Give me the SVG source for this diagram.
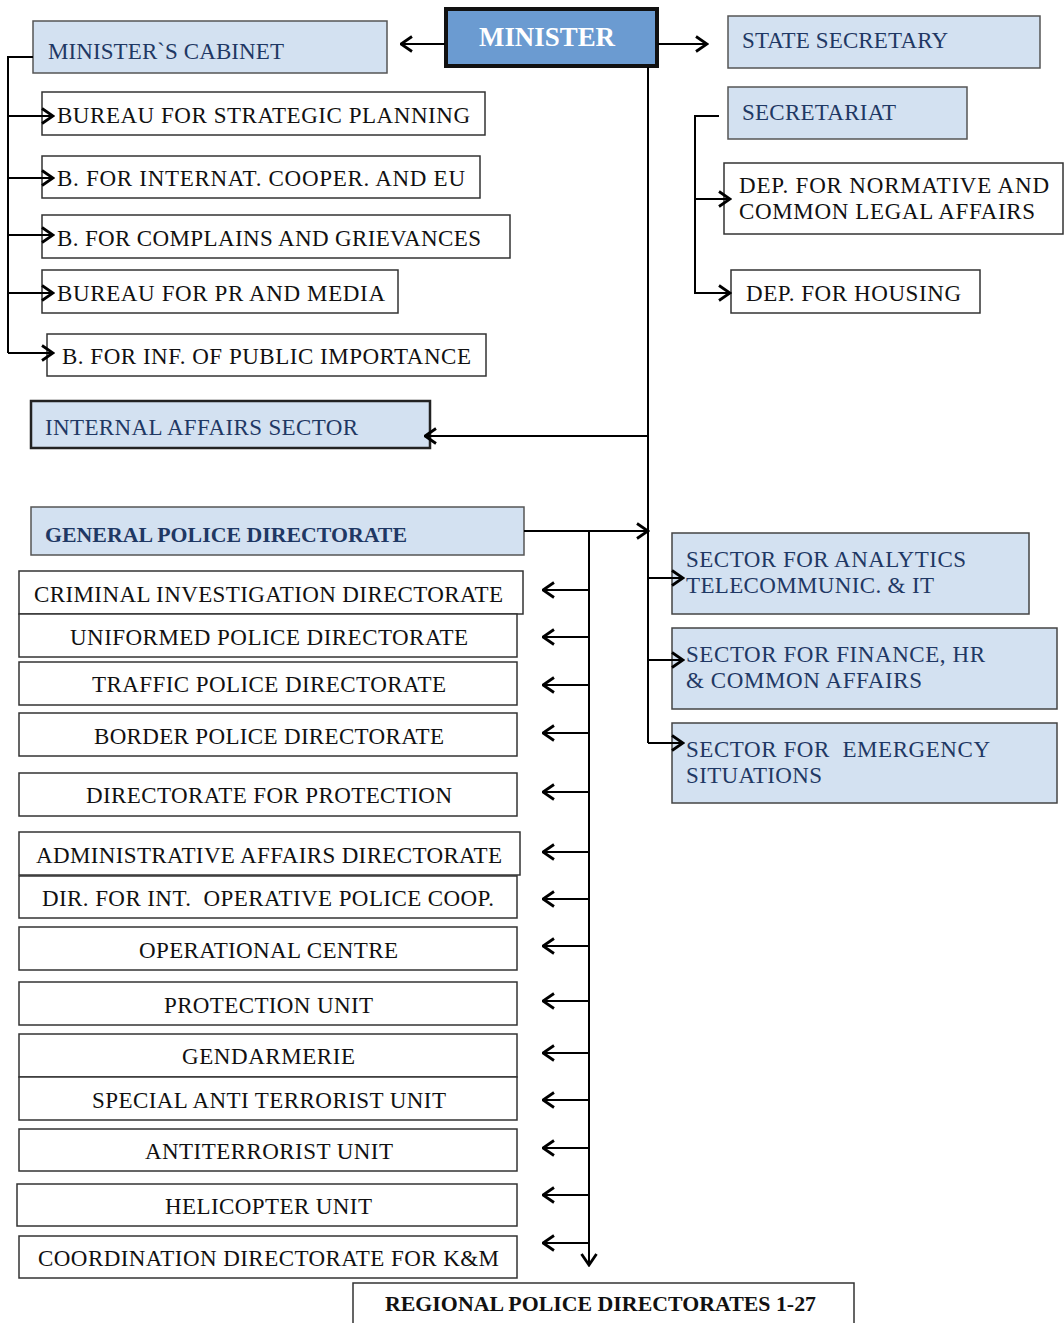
<svg xmlns="http://www.w3.org/2000/svg" width="1064" height="1323" viewBox="0 0 1064 1323">
<defs>
<marker id="ah" viewBox="0 0 14 18" refX="12.5" refY="9" markerWidth="14" markerHeight="18" markerUnits="userSpaceOnUse" orient="auto">
<path d="M1.5,1.5 L12.5,9 L1.5,16.5" fill="none" stroke="#000" stroke-width="2.8"/>
</marker>
<style>
.bl{fill:#d3e1f1;stroke:#555;stroke-width:1.5}
.bd{fill:#d3e1f1;stroke:#222;stroke-width:2.5}
.wh{fill:#fff;stroke:#333;stroke-width:1.5}
text{font-family:"Liberation Serif","Times New Roman",serif;font-size:23px}
.tb{fill:#1f3864}
.tk{fill:#111}
.bold{font-weight:bold}
.c{stroke:#000;stroke-width:2;fill:none}
.ca{stroke:#000;stroke-width:2;fill:none;marker-end:url(#ah)}
</style>
</defs>
<rect width="1064" height="1323" fill="#fff"/>

<g id="minister">
<rect x="446" y="9" width="211" height="57" fill="#6b9bd1" stroke="#111" stroke-width="4"/>
<text x="479" y="46" class="bold" style="font-size:27px" fill="#fff" textLength="136" lengthAdjust="spacingAndGlyphs">MINISTER</text>
</g>
<g id="cabinet">
<rect class="bl" x="33" y="21" width="354" height="52"/>
<text class="tb" x="48" y="59" textLength="236" lengthAdjust="spacing">MINISTER`S CABINET</text>
</g>
<g id="state-secretary">
<rect class="bl" x="728" y="16" width="312" height="52"/>
<text class="tb" x="742" y="48" textLength="206" lengthAdjust="spacing">STATE SECRETARY</text>
</g>
<g id="secretariat">
<rect class="bl" x="728" y="87" width="239" height="52"/>
<text class="tb" x="742" y="120" textLength="154" lengthAdjust="spacing">SECRETARIAT</text>
</g>
<g id="dep-normative">
<rect class="wh" x="724" y="163" width="339" height="71"/>
<text class="tk" x="739" y="193" textLength="310" lengthAdjust="spacing">DEP. FOR NORMATIVE AND</text>
<text class="tk" x="739" y="219" textLength="296" lengthAdjust="spacing">COMMON LEGAL AFFAIRS</text>
</g>
<g id="dep-housing">
<rect class="wh" x="731" y="270" width="249" height="43"/>
<text class="tk" x="746" y="301" textLength="215" lengthAdjust="spacing">DEP. FOR HOUSING</text>
</g>

<g id="bureau-strategic">
<rect class="wh" x="42" y="92" width="443" height="43"/>
<text class="tk" x="57" y="123" textLength="413" lengthAdjust="spacing">BUREAU FOR STRATEGIC PLANNING</text>
</g>
<g id="bureau-internat">
<rect class="wh" x="42" y="156" width="438" height="42"/>
<text class="tk" x="57" y="186" textLength="408" lengthAdjust="spacing">B. FOR INTERNAT. COOPER. AND EU</text>
</g>
<g id="bureau-complains">
<rect class="wh" x="42" y="215" width="468" height="43"/>
<text class="tk" x="57" y="246" textLength="424" lengthAdjust="spacing">B. FOR COMPLAINS AND GRIEVANCES</text>
</g>
<g id="bureau-pr">
<rect class="wh" x="42" y="270" width="356" height="43"/>
<text class="tk" x="57" y="301" textLength="328" lengthAdjust="spacing">BUREAU FOR PR AND MEDIA</text>
</g>
<g id="bureau-inf">
<rect class="wh" x="47" y="334" width="439" height="42"/>
<text class="tk" x="62" y="364" textLength="409" lengthAdjust="spacing">B. FOR INF. OF PUBLIC IMPORTANCE</text>
</g>

<g id="internal-affairs">
<rect class="bd" x="31" y="401" width="399" height="47"/>
<text class="tb" x="45" y="435" textLength="313" lengthAdjust="spacing">INTERNAL AFFAIRS SECTOR</text>
</g>
<g id="gpd">
<rect class="bl" x="31" y="507" width="493" height="48"/>
<text class="tb bold" x="45" y="542" style="font-size:22px" textLength="362" lengthAdjust="spacingAndGlyphs">GENERAL POLICE DIRECTORATE</text>
</g>

<g id="sector-analytics">
<rect class="bl" x="672" y="533" width="357" height="81" style="stroke:#444"/>
<text class="tb" x="686" y="567" textLength="280" lengthAdjust="spacing">SECTOR FOR ANALYTICS</text>
<text class="tb" x="686" y="593" textLength="248" lengthAdjust="spacing">TELECOMMUNIC. &amp; IT</text>
</g>
<g id="sector-finance">
<rect class="bl" x="672" y="628" width="385" height="81" style="stroke:#444"/>
<text class="tb" x="686" y="662" textLength="299" lengthAdjust="spacing">SECTOR FOR FINANCE, HR</text>
<text class="tb" x="686" y="688" textLength="236" lengthAdjust="spacing">&amp; COMMON AFFAIRS</text>
</g>
<g id="sector-emergency">
<rect class="bl" x="672" y="723" width="385" height="80" style="stroke:#444"/>
<text class="tb" x="686" y="757" textLength="304" lengthAdjust="spacing" xml:space="preserve">SECTOR FOR  EMERGENCY</text>
<text class="tb" x="686" y="783" textLength="136" lengthAdjust="spacing">SITUATIONS</text>
</g>

<g id="criminal">
<rect class="wh" x="19" y="571" width="504" height="43"/>
<text class="tk" x="34" y="602" textLength="469" lengthAdjust="spacing">CRIMINAL INVESTIGATION DIRECTORATE</text>
</g>
<g id="uniformed">
<rect class="wh" x="19" y="614" width="498" height="43"/>
<text class="tk" x="70" y="645" textLength="398" lengthAdjust="spacing">UNIFORMED POLICE DIRECTORATE</text>
</g>
<g id="traffic">
<rect class="wh" x="19" y="662" width="498" height="43"/>
<text class="tk" x="92" y="692" textLength="354" lengthAdjust="spacing">TRAFFIC POLICE DIRECTORATE</text>
</g>
<g id="border">
<rect class="wh" x="19" y="713" width="498" height="43"/>
<text class="tk" x="94" y="744" textLength="350" lengthAdjust="spacing">BORDER POLICE DIRECTORATE</text>
</g>
<g id="dir-protection">
<rect class="wh" x="19" y="773" width="498" height="43"/>
<text class="tk" x="86" y="803" textLength="366" lengthAdjust="spacing">DIRECTORATE FOR PROTECTION</text>
</g>
<g id="administrative">
<rect class="wh" x="19" y="832" width="501" height="43"/>
<text class="tk" x="36" y="863" textLength="466" lengthAdjust="spacing">ADMINISTRATIVE AFFAIRS DIRECTORATE</text>
</g>
<g id="int-operative">
<rect class="wh" x="19" y="876" width="498" height="42"/>
<text class="tk" x="42" y="906" textLength="452" lengthAdjust="spacing" xml:space="preserve">DIR. FOR INT.  OPERATIVE POLICE COOP.</text>
</g>
<g id="operational-centre">
<rect class="wh" x="19" y="927" width="498" height="43"/>
<text class="tk" x="139" y="958" textLength="259" lengthAdjust="spacing">OPERATIONAL CENTRE</text>
</g>
<g id="protection-unit">
<rect class="wh" x="19" y="982" width="498" height="43"/>
<text class="tk" x="164" y="1013" textLength="209" lengthAdjust="spacing">PROTECTION UNIT</text>
</g>
<g id="gendarmerie">
<rect class="wh" x="19" y="1034" width="498" height="43"/>
<text class="tk" x="182" y="1064" textLength="173" lengthAdjust="spacing">GENDARMERIE</text>
</g>
<g id="special-anti-terrorist">
<rect class="wh" x="19" y="1077" width="498" height="43"/>
<text class="tk" x="92" y="1108" textLength="354" lengthAdjust="spacing">SPECIAL ANTI TERRORIST UNIT</text>
</g>
<g id="antiterrorist">
<rect class="wh" x="19" y="1129" width="498" height="42"/>
<text class="tk" x="145" y="1159" textLength="248" lengthAdjust="spacing">ANTITERRORIST UNIT</text>
</g>
<g id="helicopter">
<rect class="wh" x="17" y="1184" width="500" height="42"/>
<text class="tk" x="165" y="1214" textLength="207" lengthAdjust="spacing">HELICOPTER UNIT</text>
</g>
<g id="coordination">
<rect class="wh" x="19" y="1236" width="498" height="42"/>
<text class="tk" x="38" y="1266" textLength="461" lengthAdjust="spacing">COORDINATION DIRECTORATE FOR K&amp;M</text>
</g>
<g id="regional">
<rect class="wh" x="353" y="1283" width="501" height="50"/>
<text class="tk bold" x="385" y="1311" style="font-size:22px" textLength="431" lengthAdjust="spacingAndGlyphs">REGIONAL POLICE DIRECTORATES 1-27</text>
</g>

<g id="connectors">
<path class="c" d="M33,57 H8 V353"/>
<path class="ca" d="M8,116 H53"/>
<path class="ca" d="M8,178 H53"/>
<path class="ca" d="M8,235 H53"/>
<path class="ca" d="M8,293 H53"/>
<path class="ca" d="M8,353 H53"/>
<path class="ca" d="M445,44 H401"/>
<path class="ca" d="M658,44 H707"/>
<path class="c" d="M648,67 V743"/>
<path class="ca" d="M648,436 H425"/>
<path class="ca" d="M524,531 H648"/>
<path class="ca" d="M648,578 H683"/>
<path class="ca" d="M648,660 H683"/>
<path class="ca" d="M648,743 H683"/>
<path class="c" d="M719,116 H695 V199"/>
<path class="ca" d="M695,199 H730"/>
<path class="ca" d="M695,199 V293 H730"/>
<path class="ca" d="M589,531 V1265"/>
<path class="ca" d="M589,590 H543"/>
<path class="ca" d="M589,637 H543"/>
<path class="ca" d="M589,685 H543"/>
<path class="ca" d="M589,733 H543"/>
<path class="ca" d="M589,792 H543"/>
<path class="ca" d="M589,852 H543"/>
<path class="ca" d="M589,899 H543"/>
<path class="ca" d="M589,946 H543"/>
<path class="ca" d="M589,1001 H543"/>
<path class="ca" d="M589,1053 H543"/>
<path class="ca" d="M589,1100 H543"/>
<path class="ca" d="M589,1148 H543"/>
<path class="ca" d="M589,1195 H543"/>
<path class="ca" d="M589,1243 H543"/>
</g>
</svg>
